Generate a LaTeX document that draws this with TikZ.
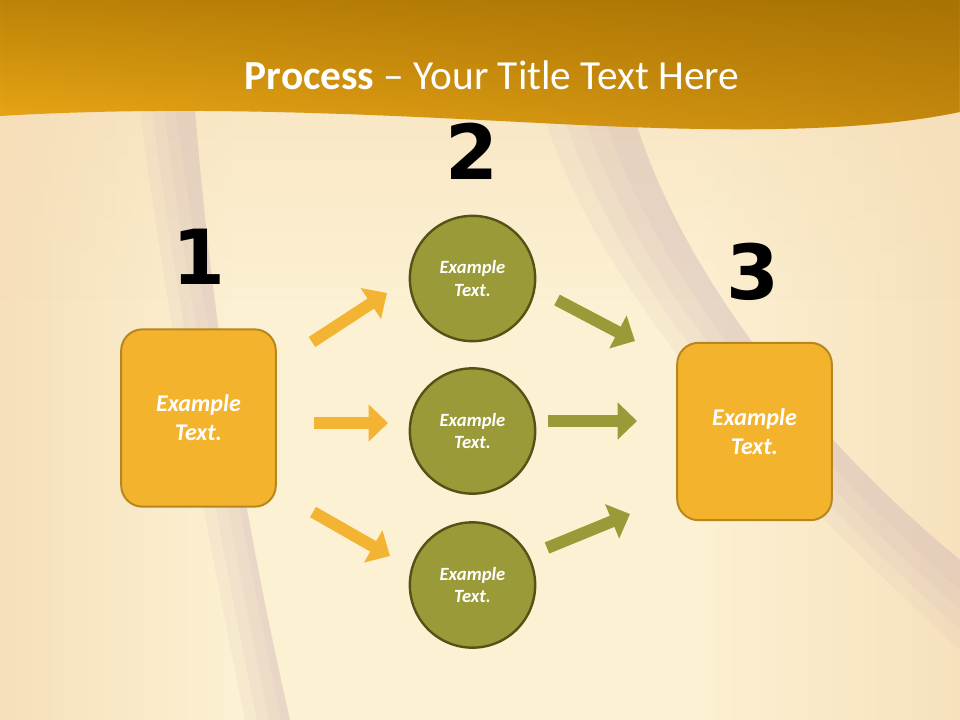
\documentclass[tikz,border=0pt]{standalone}
\usepackage{fontspec}
\setmainfont{Carlito}
\newfontfamily\numfont{DejaVu Sans}
\usetikzlibrary{arrows.meta,positioning,fadings}
\definecolor{hdrtop}{HTML}{BC8308}
\definecolor{hdrbottom}{HTML}{EDA917}
\definecolor{hdrdark}{HTML}{8A5A00}
\definecolor{bgcream}{HTML}{FCF1D2}
\definecolor{bgpeach}{HTML}{F6DDB8}
\definecolor{bgshadow}{HTML}{CFB3B8}
\definecolor{boxfill}{HTML}{F3B32D}
\definecolor{boxline}{HTML}{B8861E}
\definecolor{arroworange}{HTML}{F3B433}
\definecolor{olivefill}{HTML}{9A9A38}
\definecolor{oliveline}{HTML}{555217}

\tikzset{
  stepbox/.style={draw=boxline, fill=boxfill, line width=1.5pt, rounded corners=16pt,
    minimum width=116pt, minimum height=133pt, align=center, text=white,
    font=\fontsize{18pt}{21.6pt}\selectfont\bfseries\itshape},
  stepcircle/.style={circle, draw=oliveline, fill=olivefill, line width=1.8pt,
    minimum size=94pt, inner sep=0pt, align=center, text=white,
    font=\fontsize{14pt}{17pt}\selectfont\bfseries\itshape},
  stepnum/.style={font=\numfont\bfseries\fontsize{57pt}{60pt}\selectfont},
  fatarrow/.style={line width=9pt, -{Triangle[length=14.5pt, width=27pt]}},
  shadowband/.style={fill=bgshadow, opacity=0.12},
}

\begin{document}
\begin{tikzpicture}[x=0.75pt, y=-0.75pt]
    \useasboundingbox (0,0) rectangle (960,720);

    % Background
    \fill[bgcream] (0,0) rectangle (960,720);
    \fill[bgpeach, path fading=east, opacity=0.9] (0,100) rectangle (230,720);
    \fill[bgpeach, path fading=west, opacity=0.8] (700,100) rectangle (960,720);
    \fill[bgpeach, path fading=south, opacity=0.5] (0,100) rectangle (960,300);
    \foreach \w in {0,12,24,36}
        \fill[shadowband] (140+\w,110) .. controls (165+\w,300) and (200+\w,500) .. (245+\w,720)
            -- (290,720) .. controls (240,500) and (210,300) .. (195,110) -- cycle;
    \foreach \w in {0,20,40,60}
        \fill[shadowband] (545+\w,120) .. controls (605+\w,300) and (765+\w,470) .. (960,650-\w)
            -- (960,560) .. controls (815,440) and (685,280) .. (635,120) -- cycle;

    % Header band
    \shade[top color=hdrtop, bottom color=hdrbottom]
        (0,0) -- (960,0) -- (960,112) .. controls (860,133) and (720,132) .. (560,124)
        .. controls (400,116) and (200,104) .. (0,116) -- cycle;
    \fill[hdrdark, path fading=west, opacity=0.4]
        (0,0) -- (960,0) -- (960,112) .. controls (860,133) and (720,132) .. (560,124)
        .. controls (400,116) and (200,104) .. (0,116) -- cycle;
    \node[text=white, font=\fontsize{31pt}{36pt}\selectfont] (title) at (492,75)
        {\textbf{Process} -- Your Title Text Here};

    % Steps
    \node[stepbox] (s1) at (198.5,418) {Example\\Text.};
    \node[stepbox] (s3) at (754.5,431.5) {Example\\Text.};
    \node[stepcircle] (c1) at (472.5,278.5) {Example\\Text.};
    \node[stepcircle] (c2) at (472.5,431) {Example\\Text.};
    \node[stepcircle] (c3) at (472.5,585) {Example\\Text.};

    % Numbers
    \node[stepnum] (n1) at (199,257) {1};
    \node[stepnum] (n2) at (472,151) {2};
    \node[stepnum] (n3) at (753,272) {3};

    % Arrows
    \coordinate (a1s) at (312,342);
    \coordinate (a1e) at (387,293);
    \coordinate (a2s) at (314,423);
    \coordinate (a2e) at (388,423);
    \coordinate (a3s) at (313,512);
    \coordinate (a3e) at (390,556);
    \coordinate (b1s) at (557,300);
    \coordinate (b1e) at (635,341);
    \coordinate (b2s) at (548,421);
    \coordinate (b2e) at (637,421);
    \coordinate (b3s) at (547,548);
    \coordinate (b3e) at (630,514);
    \foreach \s/\e in {a1s/a1e, a2s/a2e, a3s/a3e}
        \draw[fatarrow, arroworange] (\s) -- (\e);
    \foreach \s/\e in {b1s/b1e, b2s/b2e, b3s/b3e}
        \draw[fatarrow, olivefill] (\s) -- (\e);
\end{tikzpicture}
\end{document}
